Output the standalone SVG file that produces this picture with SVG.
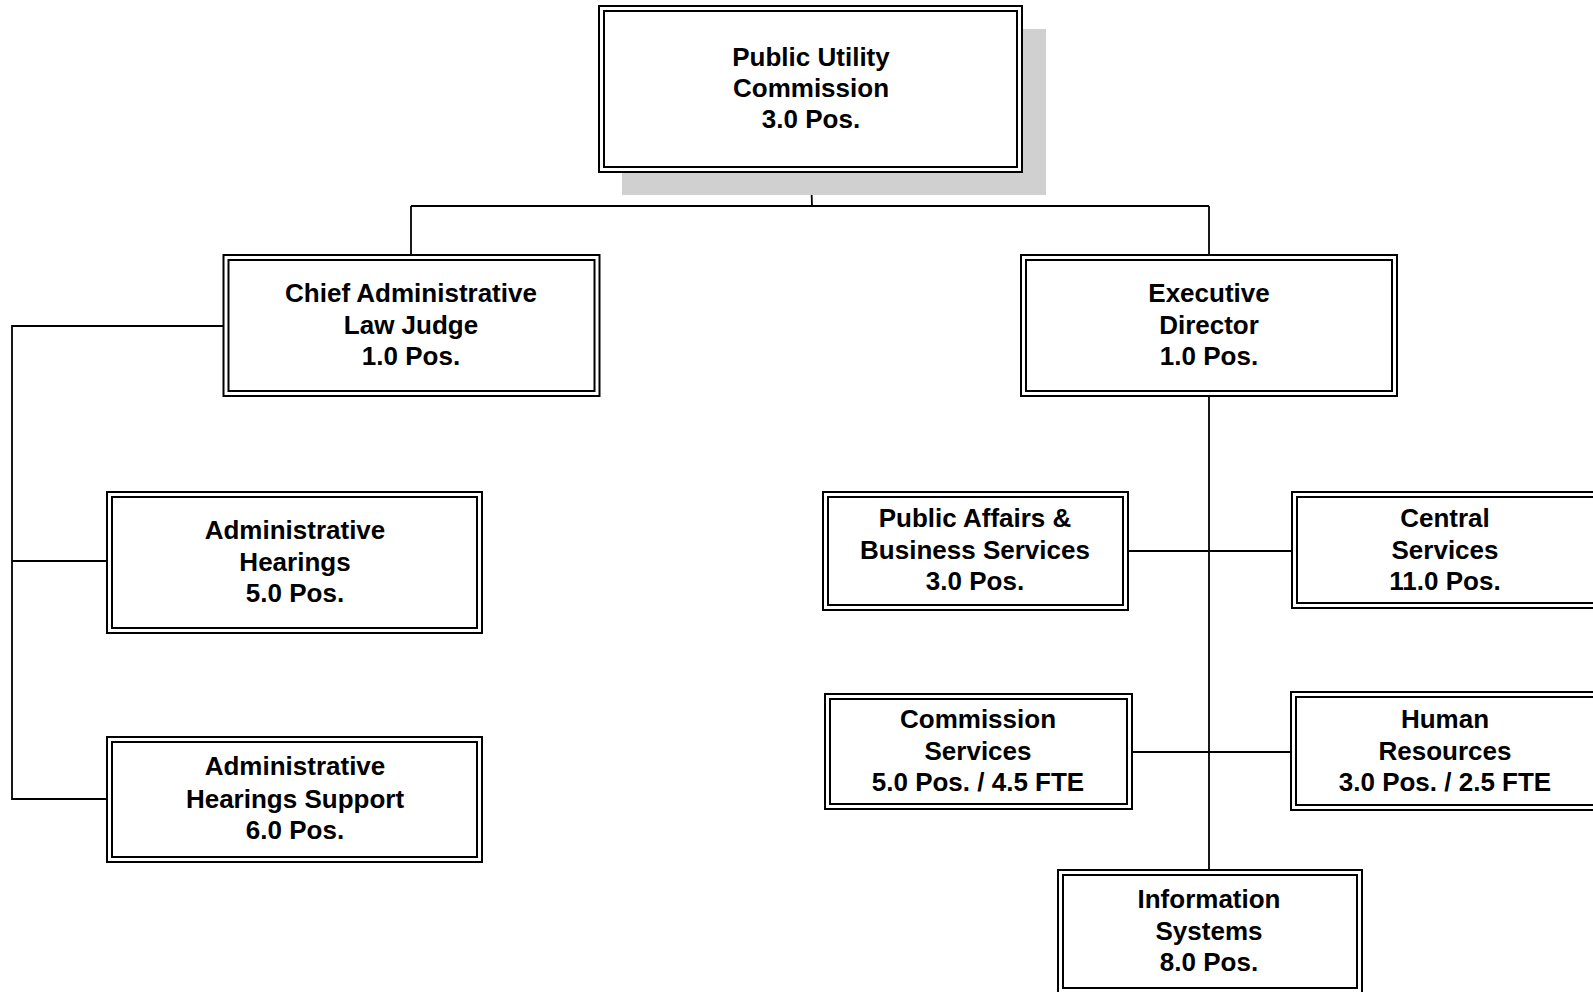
<svg xmlns="http://www.w3.org/2000/svg" width="1593" height="992" viewBox="0 0 1593 992">
<style>
.o{fill:#fff;stroke:#000;stroke-width:2}
.i{fill:none;stroke:#000;stroke-width:2}
.t{font-family:"Liberation Sans",Arial,sans-serif;font-weight:bold;font-size:26px;fill:#000;text-anchor:middle}
.c{stroke:#000;stroke-width:1.8;fill:none}
</style>
<rect width="1593" height="992" fill="#fff"/>
<g id="connectors">
<path class="c" d="M811 172 L812 206 M411 206 H1209 M411 206 V255 M1209 206 V255"/>
<path class="c" d="M223 326 H12 V799 H107 M12 561 H107"/>
<path class="c" d="M1209 396 V870 M1128 551 H1292 M1132 752 H1291"/>
</g>
<g id="puc">
<rect x="622" y="29" width="424" height="166" fill="#d0d0d0"/>
<rect class="o" x="599" y="6" width="423" height="166"/>
<rect class="i" x="604" y="11" width="413" height="156"/>
<text class="t" x="811" y="66">Public Utility</text>
<text class="t" x="811" y="97">Commission</text>
<text class="t" x="811" y="128">3.0 Pos.</text>
</g>
<g id="chief">
<rect class="o" x="223.5" y="255" width="376" height="141"/>
<rect class="i" x="228.5" y="260" width="366" height="131"/>
<text class="t" x="411" y="302">Chief Administrative</text>
<text class="t" x="411" y="334">Law Judge</text>
<text class="t" x="411" y="365">1.0 Pos.</text>
</g>
<g id="exec">
<rect class="o" x="1021" y="255" width="376" height="141"/>
<rect class="i" x="1026" y="260" width="366" height="131"/>
<text class="t" x="1209" y="302">Executive</text>
<text class="t" x="1209" y="334">Director</text>
<text class="t" x="1209" y="365">1.0 Pos.</text>
</g>
<g id="admin-hearings">
<rect class="o" x="107" y="492" width="375" height="141"/>
<rect class="i" x="112" y="497" width="365" height="131"/>
<text class="t" x="295" y="539">Administrative</text>
<text class="t" x="295" y="571">Hearings</text>
<text class="t" x="295" y="602">5.0 Pos.</text>
</g>
<g id="admin-hearings-support">
<rect class="o" x="107" y="737" width="375" height="125"/>
<rect class="i" x="112" y="742" width="365" height="115"/>
<text class="t" x="295" y="775">Administrative</text>
<text class="t" x="295" y="808">Hearings Support</text>
<text class="t" x="295" y="839">6.0 Pos.</text>
</g>
<g id="public-affairs">
<rect class="o" x="823" y="492" width="305" height="118"/>
<rect class="i" x="828" y="497" width="295" height="108"/>
<text class="t" x="975" y="527">Public Affairs &amp;</text>
<text class="t" x="975" y="559">Business Services</text>
<text class="t" x="975" y="590">3.0 Pos.</text>
</g>
<g id="central-services">
<rect class="o" x="1292" y="492" width="320" height="116"/>
<rect class="i" x="1297" y="497" width="310" height="106"/>
<text class="t" x="1445" y="527">Central</text>
<text class="t" x="1445" y="559">Services</text>
<text class="t" x="1445" y="590">11.0 Pos.</text>
</g>
<g id="commission-services">
<rect class="o" x="825" y="694" width="307" height="115"/>
<rect class="i" x="830" y="699" width="297" height="105"/>
<text class="t" x="978" y="728">Commission</text>
<text class="t" x="978" y="760">Services</text>
<text class="t" x="978" y="791">5.0 Pos. / 4.5 FTE</text>
</g>
<g id="human-resources">
<rect class="o" x="1291" y="692" width="320" height="118"/>
<rect class="i" x="1296" y="697" width="310" height="108"/>
<text class="t" x="1445" y="728">Human</text>
<text class="t" x="1445" y="760">Resources</text>
<text class="t" x="1445" y="791">3.0 Pos. / 2.5 FTE</text>
</g>
<g id="information-systems">
<rect class="o" x="1058" y="870" width="304" height="128"/>
<rect class="i" x="1063" y="875" width="294" height="113"/>
<text class="t" x="1209" y="908">Information</text>
<text class="t" x="1209" y="940">Systems</text>
<text class="t" x="1209" y="971">8.0 Pos.</text>
</g>
</svg>
